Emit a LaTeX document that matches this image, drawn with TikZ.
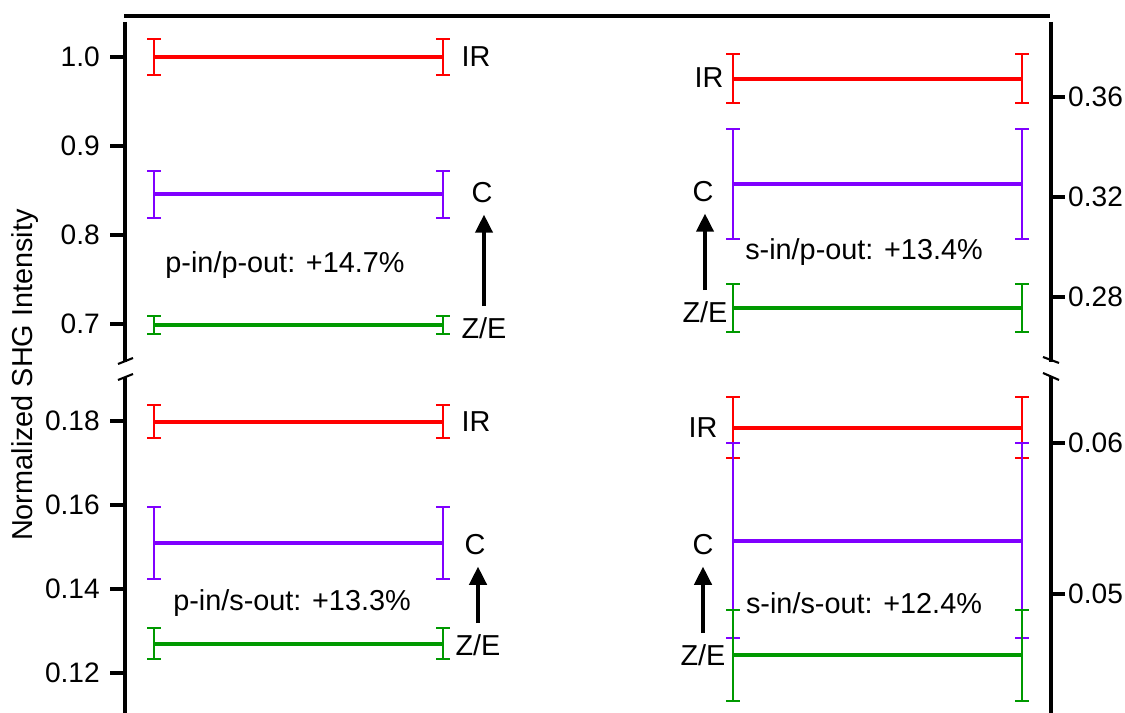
\documentclass[tikz,border=0pt]{standalone}
\usepackage{fontspec}
\setmainfont{Liberation Sans}
\usetikzlibrary{arrows.meta}
\definecolor{irRed}{RGB}{255,0,0}
\definecolor{cViolet}{RGB}{128,0,255}
\definecolor{zeGreen}{RGB}{0,153,0}
\tikzset{
  axisline/.style={black,line width=0.9pt},
  breakline/.style={black,line width=0.6pt},
  dataline/.style={line width=1pt},
  errline/.style={line width=0.45pt},
  ticklabel/.style={font=\fontsize{8}{9.5}\selectfont,inner sep=1pt},
  tag/.style={font=\fontsize{8.2}{10}\selectfont,inner sep=3pt},
  shiftarrow/.style={line width=1.25pt,-{Triangle[length=5.2pt,width=4.8pt]}},
}
% colour, left x, right x, y, upper end, lower end
\newcommand{\errbar}[6]{%
  \draw[dataline,#1] (#2,#4) -- (#3,#4);
  \foreach \xx in {#2,#3}{
    \draw[errline,#1] (\xx,#5) -- (\xx,#6)
      (\xx-7,#5) -- (\xx+7,#5) (\xx-7,#6) -- (\xx+7,#6);
  }
}

\begin{document}
\begin{tikzpicture}[x=0.01cm,y=-0.01cm]
  \useasboundingbox (0,0) rectangle (1125,713);
  % frame and axes
  \draw[axisline] (124,16) -- (1050,16);
  \draw[axisline] (125,22) -- (125,362) (125,377) -- (125,713);
  \draw[axisline] (1051,22) -- (1051,362) (1051,376) -- (1051,713);
  \draw[breakline] (118,364) -- (133,358) (118,380) -- (133,374);% left break
  \draw[breakline] (1043,357) -- (1059,363) (1043,373) -- (1059,380);% right break
  % left ticks
  \foreach \y/\t in {57/1.0,146/0.9,235/0.8,324/0.7,421/0.18,505/0.16,589/0.14,673/0.12}{
    \draw[axisline] (110,\y) -- (125,\y);
    \node[ticklabel,anchor=east] (yl\y) at (104,\y) {\t};
  }
  % right ticks
  \foreach \y/\t in {97/0.36,197/0.32,297/0.28,443/0.06,594/0.05}{
    \draw[axisline] (1051,\y) -- (1065,\y);
    \node[ticklabel,anchor=west] (yr\y) at (1064,\y) {\t};
  }
  \node[tag,rotate=90] (ylab) at (25,375) {Normalized SHG Intensity};

  % p-in/p-out
  \errbar{irRed}{154}{443}{57}{39}{75}
  \errbar{cViolet}{154}{443}{194}{171}{218}
  \errbar{zeGreen}{154}{443}{325}{316}{334}
  % p-in/s-out
  \errbar{irRed}{154}{443}{422}{405}{438}
  \errbar{cViolet}{154}{443}{543}{507}{579}
  \errbar{zeGreen}{154}{443}{644}{628}{659}
  % s-in/p-out
  \errbar{irRed}{733}{1022}{79}{54}{103}
  \errbar{cViolet}{733}{1022}{184}{129}{239}
  \errbar{zeGreen}{733}{1022}{308}{284}{332}
  % s-in/s-out
  \errbar{irRed}{733}{1022}{428}{397}{458}
  \errbar{cViolet}{733}{1022}{541}{443}{638}
  \errbar{zeGreen}{733}{1022}{655}{610}{701}

  \node[tag] (irPP) at (476,57) {IR};
  \node[tag] (cPP) at (482,193) {C};
  \node[tag] (zePP) at (484,328) {Z/E};
  \node[tag] (irPS) at (476,422) {IR};
  \node[tag] (cPS) at (475,545) {C};
  \node[tag] (zePS) at (478,645) {Z/E};
  \node[tag] (irSP) at (709,78) {IR};
  \node[tag] (cSP) at (703,192) {C};
  \node[tag] (zeSP) at (705,312) {Z/E};
  \node[tag] (irSS) at (703,428) {IR};
  \node[tag] (cSS) at (703,545) {C};
  \node[tag] (zeSS) at (703,655) {Z/E};

  \draw[shiftarrow] (zePP.north) -- (zePP.north |- cPP.south);
  \draw[shiftarrow] (zePS.north) -- (zePS.north |- cPS.south);
  \draw[shiftarrow] (zeSP.north) -- (zeSP.north |- cSP.south);
  \draw[shiftarrow] (zeSS.north) -- (zeSS.north |- cSS.south);

  \node[tag] (pp) at (285,265) {p-in/p-out: +14.7\%};
  \node[tag] (ps) at (292,603) {p-in/s-out: +13.3\%};
  \node[tag] (sp) at (864,252) {s-in/p-out: +13.4\%};
  \node[tag] (ss) at (864,603) {s-in/s-out: +12.4\%};
\end{tikzpicture}
\end{document}
